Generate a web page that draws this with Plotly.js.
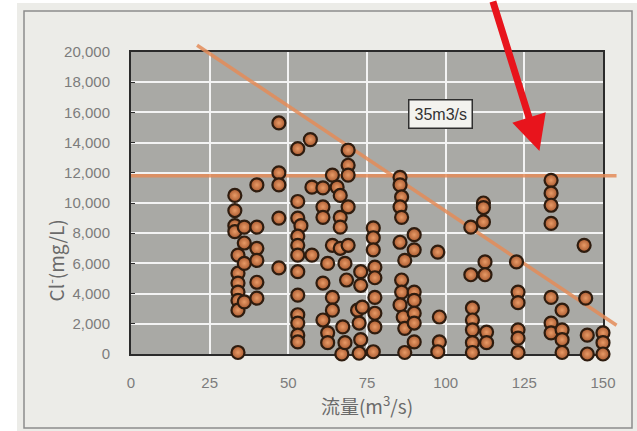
<!DOCTYPE html>
<html><head><meta charset="utf-8">
<script src="https://cdn.plot.ly/plotly-3.0.1.min.js"></script>
<style>html,body{margin:0;padding:0;background:#fff}#chart{width:637px;height:431px}</style>
</head><body><div id="chart"></div>
<script>
// ---- data ----
const flow = [
  33,33,33,33,34,34,34,34,34,34,34,
  36,36,36,36,
  40,40,40,40,40,40,
  47,47,47,47,47,
  53,53,53,54,53,53,53,53,53,53,53,53,53,
  57,57.5,57.5,
  61,61,61,61,61,
  62.5,62.5,62.5,
  64,64,64,64,
  65.5,66.5,66.5,66.5,66.5,67,
  69,69,69,69,69,68,68.5,67.3,68,
  73,73,72,72.5,73,72.5,73.5,
  77,77,77,77.5,77.5,77.5,77.5,77.5,77,
  85.5,85.5,86,85.5,86,85.5,87,86,86,85.5,86.5,87,87,
  90,90,90,90,90,90,90,
  97.5,98,98,97.5,
  108,108,108.5,108.5,108.5,108.5,108.5,
  112,112,112,112.5,112.5,113,113,
  122.5,123,123,123,123,123,
  133.5,133.5,133.5,133.5,133.5,133.5,133.5,
  137,137,137,137,
  144,144.5,145,145,
  150,150,150
];
const chloride = [
  10500,9500,8500,8100,6550,5350,4700,4100,3550,2900,100,
  8400,7350,6000,3450,
  11200,8400,7000,6200,4750,3700,
  15300,12000,11200,9000,5700,
  13600,10100,9000,8500,7800,7200,6550,5450,3900,2600,2050,1250,800,
  14200,11050,6550,
  11000,9750,9050,4700,2250,
  6000,1400,750,
  11850,7200,3750,2900,
  11050,10500,9050,8400,7000,0,
  13500,12500,11850,9750,7200,6000,4900,1800,750,
  5450,4550,2900,2050,950,50,3100,
  8350,7700,6900,5750,5050,3750,2700,1800,150,
  11700,11200,10400,9750,9050,7400,6200,4900,4100,3250,2450,1700,100,
  7900,6900,4100,3550,2700,2050,800,
  6750,2450,800,150,
  8400,5250,3050,2250,1600,750,100,
  10000,9700,8750,6100,5250,1450,750,
  6100,4100,3400,1600,1050,100,
  11500,10650,9850,8650,3750,2050,1400,
  2900,1600,950,100,
  7200,3700,1250,0,
  1400,750,0
];
const trendX = [21, 154.3];
const trendY = [20450, 1900];
const levelX = [0, 154.3];
const levelY = [11800, 11800];
const xTickVals = [0, 25, 50, 75, 100, 125, 150];
const yTickVals = [0, 2000, 4000, 6000, 8000, 10000, 12000, 14000, 16000, 18000, 20000];
const xRange = [0, 150];
const yRange = [0, 20000];
const boxLabel = '35m3/s';
const boxAt = [98.4, 15900];
const arrowTip = [129.8, 13450];
const xTitle = '流量(m<sup>3</sup>/s)';
const yTitle = 'Cl<sup>-</sup>(mg/L)';

// ---- layout geometry ----
const W = 637, H = 431;
const M = {l: 131, r: 17, t: 42, b: 77};
const regW = W - M.l - M.r, regH = H - M.t - M.b;
const xFrac = 472 / regW, yFrac = 302 / regH;
const px2x = p => (p - M.l) / regW;
const px2y = p => (H - M.b - p) / regH;

const tickFont = {family: 'Liberation Sans, Arial, sans-serif', size: 15, color: '#7c7c7c'};
const titleFont = {family: 'Noto Sans CJK JP, Liberation Sans, sans-serif', size: 19, color: '#6a6a6a'};
const orange = 'rgba(228,140,88,0.85)';

const traces = [
  {x: levelX, y: levelY, xaxis: 'x2', yaxis: 'y2', mode: 'lines',
   line: {color: orange, width: 3.5}, hoverinfo: 'skip'},
  {x: trendX, y: trendY, xaxis: 'x2', yaxis: 'y2', mode: 'lines',
   line: {color: orange, width: 3.5}, hoverinfo: 'skip'},
  {x: flow, y: chloride, xaxis: 'x2', yaxis: 'y2', mode: 'markers', cliponaxis: false,
   marker: {size: 13, color: '#a95a30', gradient: {type: 'radial', color: '#e89a66'},
            line: {color: '#2e1c0f', width: 2.2}}}
];

const layout = {
  width: W, height: H, margin: M, showlegend: false,
  paper_bgcolor: '#ffffff', plot_bgcolor: 'rgba(0,0,0,0)',
  xaxis: {domain: [0, xFrac], range: xRange, tickvals: xTickVals, showgrid: true,
    gridcolor: '#f3f3f3', gridwidth: 2, zeroline: false, showline: true, mirror: true,
    linecolor: '#2b2b2b', linewidth: 2, ticks: '', tickfont: tickFont, ticklabelstandoff: 14,
    title: {text: xTitle, font: titleFont, standoff: 7}},
  yaxis: {domain: [0, yFrac], range: yRange, tickvals: yTickVals, tickformat: ',d', showgrid: true,
    gridcolor: '#f3f3f3', gridwidth: 2, zeroline: false, showline: true, mirror: true,
    linecolor: '#2b2b2b', linewidth: 2, ticks: 'inside', ticklen: 4, tickcolor: '#2b2b2b',
    tickfont: tickFont, ticklabelstandoff: 16},
  xaxis2: {domain: [0, 1], range: [xRange[0], xRange[1] / xFrac], visible: false, anchor: 'y2'},
  yaxis2: {domain: [0, 1], range: [yRange[0], yRange[1] / yFrac], visible: false, anchor: 'x2'},
  shapes: [
    {type: 'rect', xref: 'paper', yref: 'paper', layer: 'below',
     x0: px2x(17), x1: px2x(640), y0: px2y(434), y1: px2y(3),
     fillcolor: '#ecece8', line: {width: 0}},
    {type: 'rect', xref: 'paper', yref: 'paper', layer: 'below',
     x0: px2x(24), x1: px2x(632), y0: px2y(428), y1: px2y(11),
     fillcolor: 'rgba(0,0,0,0)', line: {color: '#8c8c8c', width: 1.5}},
    {type: 'rect', xref: 'x domain', yref: 'y domain', layer: 'below',
     x0: 0, x1: 1, y0: 0, y1: 1, fillcolor: '#a9a9a5', line: {width: 0}}
  ],
  annotations: [
    {xref: 'paper', yref: 'y', x: px2x(55), y: 6200, text: yTitle, textangle: -90,
     showarrow: false, xanchor: 'center', yanchor: 'middle', font: titleFont},
    {xref: 'x', yref: 'y', x: boxAt[0], y: boxAt[1], text: boxLabel, showarrow: false,
     bgcolor: '#f3f3ef', bordercolor: '#2e2e2e', borderwidth: 1.5, borderpad: 5,
     font: {family: 'Liberation Sans, Arial, sans-serif', size: 16, color: '#333'}},
    {xref: 'x', yref: 'y', x: arrowTip[0], y: arrowTip[1], text: '', showarrow: true,
     axref: 'pixel', ayref: 'pixel', ax: -47, ay: -158, arrowcolor: '#e8141c',
     arrowwidth: 7, arrowhead: 2, arrowsize: 1, standoff: 0}
  ]
};

Plotly.newPlot('chart', traces, layout, {displayModeBar: false, staticPlot: true});
</script></body></html>
